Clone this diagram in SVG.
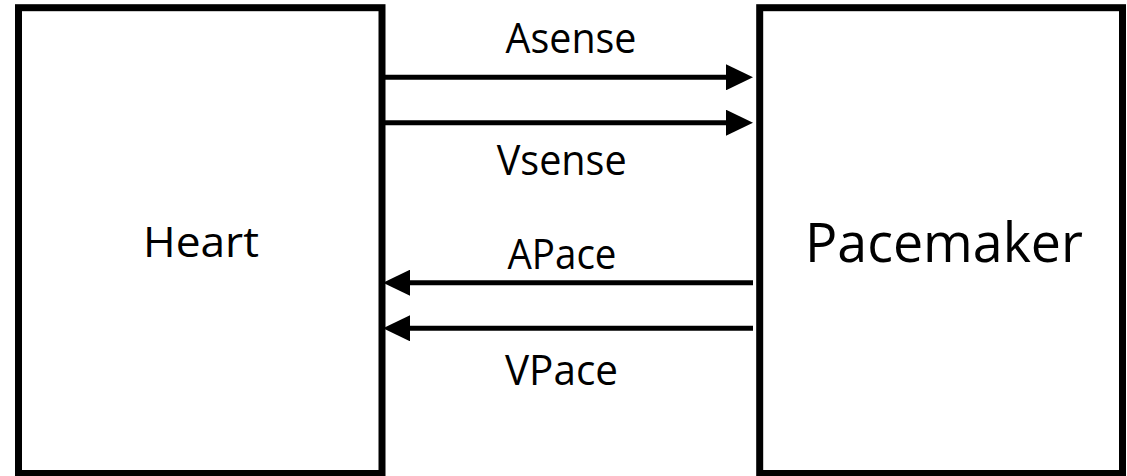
<svg xmlns="http://www.w3.org/2000/svg" width="1127" height="476" viewBox="0 0 1127 476">
  <style>
    .box { fill: #ffffff; stroke: #000000; stroke-width: 7; }
    .conn { stroke: #000000; stroke-width: 5; fill: none; }
    .lbl { font-family: "Open Sans", "Liberation Sans", sans-serif; font-size: 42px; fill: #000000; text-anchor: middle; }
    .big { font-size: 54px; }
  </style>
  <defs>
    <marker id="arrow" viewBox="0 0 27 26" refX="1" refY="13" markerWidth="27" markerHeight="26" markerUnits="userSpaceOnUse" orient="auto">
      <path d="M0,0 L27,13 L0,26 z" fill="#000000"/>
    </marker>
  </defs>
  <rect width="1127" height="476" fill="#ffffff"/>
  <g id="heart">
    <rect class="box" x="18.5" y="7.7" width="363.5" height="465.8"/>
    <text class="lbl" x="201" y="256.7" textLength="116" lengthAdjust="spacingAndGlyphs">Heart</text>
  </g>
  <g id="pacemaker">
    <rect class="box" x="759.7" y="7.7" width="362.8" height="465.8"/>
    <text class="lbl big" x="944" y="261.7" textLength="278" lengthAdjust="spacingAndGlyphs">Pacemaker</text>
  </g>
  <g id="connectors">
    <line class="conn" x1="385" y1="77.3" x2="727" y2="77.3" marker-end="url(#arrow)"/>
    <line class="conn" x1="385" y1="122.7" x2="727" y2="122.7" marker-end="url(#arrow)"/>
    <line class="conn" x1="753" y1="282.7" x2="409" y2="282.7" marker-end="url(#arrow)"/>
    <line class="conn" x1="753" y1="328.3" x2="409" y2="328.3" marker-end="url(#arrow)"/>
    <text class="lbl" x="571" y="53.3" textLength="131" lengthAdjust="spacingAndGlyphs">Asense</text>
    <text class="lbl" x="561.7" y="175" textLength="130" lengthAdjust="spacingAndGlyphs">Vsense</text>
    <text class="lbl" x="562" y="269" textLength="109" lengthAdjust="spacingAndGlyphs">APace</text>
    <text class="lbl" x="561.5" y="385" textLength="113" lengthAdjust="spacingAndGlyphs">VPace</text>
  </g>
</svg>
